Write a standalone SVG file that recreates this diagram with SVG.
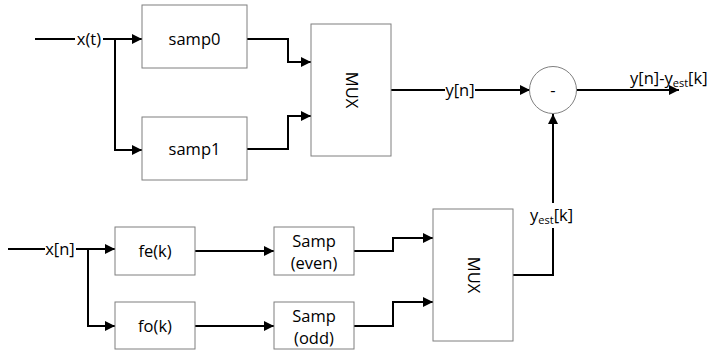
<svg xmlns="http://www.w3.org/2000/svg" width="709" height="352" viewBox="0 0 709 352">
<style>
.box{fill:#fff;stroke:#7f7f7f;stroke-width:1}
.w{fill:none;stroke:#000;stroke-width:2}
text{font-family:"Open Sans","Liberation Sans",sans-serif;font-size:16.5px;fill:#000}
.c{text-anchor:middle}
.sub{font-size:11px}
</style>
<defs>
<marker id="ah" viewBox="0 0 10 10" refX="10" refY="5" markerWidth="6" markerHeight="5" markerUnits="strokeWidth" orient="auto">
<path d="M0,0 L10,5 L0,10 z" fill="#000"/>
</marker>
</defs>
<g id="connectors">
<path class="w" d="M35,39 H75"/>
<path class="w" d="M103,39 H142" marker-end="url(#ah)"/>
<path class="w" d="M115,39 V150 H142" marker-end="url(#ah)"/>
<path class="w" d="M247,39 H288 V62 H311" marker-end="url(#ah)"/>
<path class="w" d="M247,149 H288 V116 H311" marker-end="url(#ah)"/>
<path class="w" d="M391,90 H445"/>
<path class="w" d="M475,90 H530" marker-end="url(#ah)"/>
<path class="w" d="M577,90 H679" marker-end="url(#ah)"/>
<path class="w" d="M513,275 H553 V228"/>
<path class="w" d="M553,203 V114" marker-end="url(#ah)"/>
<path class="w" d="M8,249 H45"/>
<path class="w" d="M76,249 H115" marker-end="url(#ah)"/>
<path class="w" d="M88,249 V326 H115" marker-end="url(#ah)"/>
<path class="w" d="M195,251 H274" marker-end="url(#ah)"/>
<path class="w" d="M195,326 H274" marker-end="url(#ah)"/>
<path class="w" d="M354,251 H393 V238 H433" marker-end="url(#ah)"/>
<path class="w" d="M354,326 H393 V302 H433" marker-end="url(#ah)"/>
</g>
<g id="lbl-xt"><text x="89" y="45" class="c">x(t)</text></g>
<g id="lbl-yn"><text x="460" y="96" class="c">y[n]</text></g>
<g id="lbl-out"><text x="630" y="84">y[n]-y<tspan class="sub" dy="3">est</tspan><tspan dy="-3">[k]</tspan></text></g>
<g id="lbl-yest"><text x="530" y="221">y<tspan class="sub" dy="3">est</tspan><tspan dy="-3">[k]</tspan></text></g>
<g id="lbl-xn"><text x="60" y="255" class="c">x[n]</text></g>
<g id="samp0"><rect class="box" x="142" y="5" width="105" height="63"/><text x="194.5" y="45" class="c">samp0</text></g>
<g id="samp1"><rect class="box" x="142" y="117" width="105" height="63"/><text x="194.5" y="155" class="c">samp1</text></g>
<g id="mux1"><rect class="box" x="311" y="24" width="80" height="132"/><text class="c" transform="translate(346,90) rotate(90)">MUX</text></g>
<g id="sub"><circle class="box" cx="553" cy="90" r="23.5"/><text x="553" y="96" class="c">-</text></g>
<g id="fe"><rect class="box" x="115" y="227" width="80" height="48"/><text x="155" y="257" class="c">fe(k)</text></g>
<g id="fo"><rect class="box" x="115" y="302" width="80" height="47"/><text x="155" y="332" class="c">fo(k)</text></g>
<g id="seven"><rect class="box" x="274" y="227" width="80" height="48"/><text x="314" y="247" class="c">Samp</text><text x="314" y="269" class="c">(even)</text></g>
<g id="sodd"><rect class="box" x="274" y="302" width="80" height="47"/><text x="314" y="322" class="c">Samp</text><text x="314" y="344" class="c">(odd)</text></g>
<g id="mux2"><rect class="box" x="433" y="209" width="80" height="132"/><text class="c" transform="translate(468,275) rotate(90)">MUX</text></g>
</svg>
